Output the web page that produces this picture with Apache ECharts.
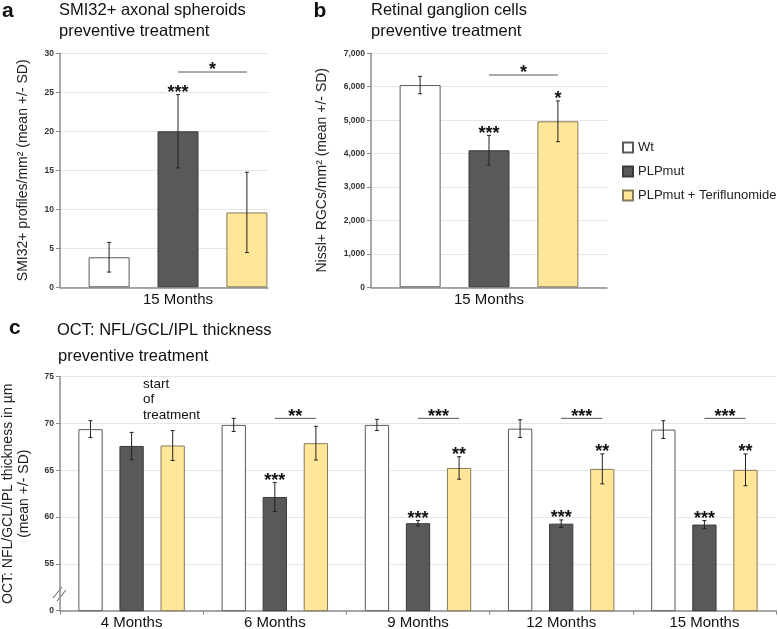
<!DOCTYPE html>
<html><head><meta charset="utf-8">
<script src="https://cdn.jsdelivr.net/npm/echarts@6/dist/echarts.min.js"></script>
<style>html,body{margin:0;padding:0;background:#fff}#c{width:778px;height:629px}</style>
</head><body><div id="c"></div>
<script>
const FONT = "'Liberation Sans', Arial, sans-serif";
// ---- Panel a ----
const aCategories = ['15 Months'];
const aWt = [3.85], aWtSD = [1.9];
const aMut = [20.0], aMutSD = [4.7];
const aTer = [9.6], aTerSD = [5.15];
const aWtSig = [''], aMutSig = ['***'], aTerSig = [''];
const aBracketY = [27.6], aBracketSig = ['*'];
// ---- Panel b ----
const bCategories = ['15 Months'];
const bWt = [6050], bWtSD = [260];
const bMut = [4100], bMutSD = [445];
const bTer = [4965], bTerSD = [610];
const bWtSig = [''], bMutSig = ['***'], bTerSig = ['*'];
const bBracketY = [6350], bBracketSig = ['*'];
// ---- Panel c ----
const cCategories = ['4 Months', '6 Months', '9 Months', '12 Months', '15 Months'];
const cWt = [69.4, 69.85, 69.85, 69.45, 69.35];
const cWtSD = [0.9, 0.7, 0.6, 0.95, 0.95];
const cMut = [67.6, 62.15, 59.35, 59.3, 59.2];
const cMutSD = [1.45, 1.55, 0.3, 0.4, 0.43];
const cTer = [67.65, 67.9, 65.25, 65.15, 65.05];
const cTerSD = [1.6, 1.8, 1.2, 1.6, 1.7];
const cWtSig = ['', '', '', '', ''];
const cMutSig = ['', '***', '***', '***', '***'];
const cTerSig = ['', '', '**', '**', '**'];
const cBracketY = [null, 70.55, 70.55, 70.55, 70.55];
const cBracketSig = ['', '**', '***', '***', '***'];
const cBreakLabel = '0';

const NAMES = ['Wt', 'PLPmut', 'PLPmut + Teriflunomide'];
const STY = [
  {color: '#ffffff', borderColor: '#5a5a5a', borderWidth: 1},
  {color: '#595959', borderColor: '#3a3a3a', borderWidth: 1},
  {color: '#ffe699', borderColor: '#857a5a', borderWidth: 1}
];
const SIG_SIZE = 18;

function bars(xi, yi, vals, k, bw, gap) {
  return {type: 'bar', name: NAMES[k], xAxisIndex: xi, yAxisIndex: yi, data: vals,
    barWidth: bw, barGap: gap, itemStyle: STY[k], silent: true, z: 2};
}
function errSeries(xi, yi, means, sds, sigs, offset) {
  return {
    type: 'custom', xAxisIndex: xi, yAxisIndex: yi, z: 5, silent: true,
    data: means.map((m, i) => [i, m, sds[i]]),
    renderItem: (params, api) => {
      const i = api.value(0), m = api.value(1), sd = api.value(2);
      const hi = api.coord([i, m + sd]), lo = api.coord([i, m - sd]);
      const x = hi[0] + offset;
      const st = {stroke: '#222', lineWidth: 1};
      const ch = [
        {type: 'line', shape: {x1: x, y1: hi[1], x2: x, y2: lo[1]}, style: st},
        {type: 'line', shape: {x1: x - 2, y1: hi[1], x2: x + 2, y2: hi[1]}, style: st},
        {type: 'line', shape: {x1: x - 2, y1: lo[1], x2: x + 2, y2: lo[1]}, style: st}
      ];
      const s = sigs[params.dataIndex];
      if (s) ch.push({type: 'text', x: x, y: hi[1] - 1.5,
        style: {text: s, fontSize: SIG_SIZE, fontWeight: 'bold', fontFamily: FONT, fill: '#111', align: 'center', verticalAlign: 'middle'}});
      return {type: 'group', children: ch};
    }
  };
}
function bracketSeries(xi, yi, ys, sigs, offset) {
  return {
    type: 'custom', xAxisIndex: xi, yAxisIndex: yi, z: 5, silent: true,
    data: ys.map((y, i) => [i, y]).filter(d => d[1] != null),
    renderItem: (params, api) => {
      const i = api.value(0), y = api.value(1);
      const p = api.coord([i, y]);
      return {type: 'group', children: [
        {type: 'line', shape: {x1: p[0], y1: p[1], x2: p[0] + offset, y2: p[1]}, style: {stroke: '#555', lineWidth: 1}},
        {type: 'text', x: p[0] + offset / 2, y: p[1] - 1.5,
          style: {text: sigs[i], fontSize: SIG_SIZE, fontWeight: 'bold', fontFamily: FONT, fill: '#111', align: 'center', verticalAlign: 'middle'}}
      ]};
    }
  };
}
const axLine = {show: true, lineStyle: {color: '#8c8c8c', width: 1.5}};
const tickLbl = {fontSize: 8.5, fontWeight: 'bold', color: '#333', fontFamily: FONT, margin: 6};
const split = {show: true, lineStyle: {color: '#e6e6e6', width: 1}};
const yTick = {show: true, length: 4, lineStyle: {color: '#8c8c8c'}};
const nameSty = {fontSize: 14, color: '#222', fontFamily: FONT};
const xLbl = {fontSize: 15, color: '#111', fontFamily: FONT, margin: 5};

function titleItem(text, left, top, size, bold) {
  return {text: text, left: left, top: top, padding: 0,
    textStyle: {fontSize: size, fontWeight: bold ? 'bold' : 'normal', color: '#111', fontFamily: FONT}};
}

const option = {
  animation: false,
  backgroundColor: '#fff',
  textStyle: {fontFamily: FONT},
  title: [
    titleItem('a', 2, 1, 21, true),
    titleItem('SMI32+ axonal spheroids', 59, 1.5, 16.5),
    titleItem('preventive treatment', 59, 23, 16.5),
    titleItem('b', 313.5, 1, 21, true),
    titleItem('Retinal ganglion cells', 371, 1.5, 16.5),
    titleItem('preventive treatment', 371, 23, 16.5),
    titleItem('c', 9, 318, 21, true),
    titleItem('OCT: NFL/GCL/IPL thickness', 57, 322, 16.5),
    titleItem('preventive treatment', 58, 347.5, 16.5)
  ],
  legend: {
    data: NAMES, orient: 'vertical', left: 617, top: 136, itemWidth: 10, itemHeight: 10, itemGap: 11,
    icon: 'rect', selectedMode: false,
    textStyle: {fontSize: 13, color: '#222', fontFamily: FONT}
  },
  grid: [
    {left: 60, top: 53.3, width: 236, height: 234, outerBoundsMode: 'none', containLabel: false},
    {left: 60, top: 53.3, width: 208, height: 234, outerBoundsMode: 'none', containLabel: false},
    {left: 371, top: 53.3, width: 236, height: 234, outerBoundsMode: 'none', containLabel: false},
    {left: 60, top: 376.7, width: 716, height: 234, outerBoundsMode: 'none', containLabel: false}
  ],
  xAxis: [
    {type: 'category', gridIndex: 0, data: aCategories, axisLine: {show: false}, axisTick: {show: false}, axisLabel: xLbl},
    {type: 'category', gridIndex: 1, data: aCategories, axisLine: axLine, axisTick: {show: false}, axisLabel: {show: false}},
    {type: 'category', gridIndex: 2, data: bCategories, axisLine: axLine, axisTick: {show: false}, axisLabel: xLbl},
    {type: 'category', gridIndex: 3, data: cCategories, axisLine: axLine,
      axisTick: {show: true, length: 4, lineStyle: {color: '#8c8c8c'}}, axisLabel: xLbl}
  ],
  yAxis: [
    {type: 'value', gridIndex: 0, min: 0, max: 30, interval: 5, show: false},
    {type: 'value', gridIndex: 1, min: 0, max: 30, interval: 5, axisLine: axLine, axisTick: yTick,
      axisLabel: tickLbl, splitLine: split,
      name: 'SMI32+ profiles/mm\u00b2 (mean +/- SD)', nameLocation: 'middle', nameGap: 30, nameTextStyle: nameSty},
    {type: 'value', gridIndex: 2, min: 0, max: 7000, interval: 1000, axisLine: axLine, axisTick: yTick,
      axisLabel: Object.assign({}, tickLbl, {formatter: v => v.toLocaleString('en-US')}), splitLine: split,
      name: 'Nissl+ RGCs/mm\u00b2 (mean +/- SD)', nameLocation: 'middle', nameGap: 42, nameTextStyle: nameSty},
    {type: 'value', gridIndex: 3, min: 50, max: 75, interval: 5, axisLine: axLine, axisTick: yTick,
      axisLabel: Object.assign({}, tickLbl, {formatter: v => v === 50 ? cBreakLabel : String(v)}), splitLine: split,
      name: 'OCT: NFL/GCL/IPL thickness in \u00b5m\n(mean +/- SD)', nameLocation: 'middle', nameGap: 28,
      nameTextStyle: Object.assign({}, nameSty, {lineHeight: 16})}
  ],
  series: [
    bars(0, 0, aWt, 0, 41, '68%'), bars(0, 0, aMut, 1, 41, '68%'), bars(0, 0, aTer, 2, 41, '68%'),
    errSeries(0, 0, aWt, aWtSD, aWtSig, -68.9),
    errSeries(0, 0, aMut, aMutSD, aMutSig, 0),
    errSeries(0, 0, aTer, aTerSD, aTerSig, 68.9),
    bracketSeries(0, 0, aBracketY, aBracketSig, 68.9),

    bars(2, 2, bWt, 0, 41, '68%'), bars(2, 2, bMut, 1, 41, '68%'), bars(2, 2, bTer, 2, 41, '68%'),
    errSeries(2, 2, bWt, bWtSD, bWtSig, -68.9),
    errSeries(2, 2, bMut, bMutSD, bMutSig, 0),
    errSeries(2, 2, bTer, bTerSD, bTerSig, 68.9),
    bracketSeries(2, 2, bBracketY, bBracketSig, 68.9),

    bars(3, 3, cWt, 0, 24.3, '69%'), bars(3, 3, cMut, 1, 24.3, '69%'), bars(3, 3, cTer, 2, 24.3, '69%'),
    errSeries(3, 3, cWt, cWtSD, cWtSig, -41.1),
    errSeries(3, 3, cMut, cMutSD, cMutSig, 0),
    errSeries(3, 3, cTer, cTerSD, cTerSig, 41.1),
    bracketSeries(3, 3, cBracketY, cBracketSig, 41.1)
  ],
  graphic: [
    {type: 'text', left: 143, top: 376.5, silent: true,
      style: {text: 'start\nof\ntreatment', fontSize: 13.5, lineHeight: 15.5, fontFamily: FONT, fill: '#111'}},
    {type: 'line', silent: true, shape: {x1: 53, y1: 598, x2: 62, y2: 587}, style: {stroke: '#555', lineWidth: 1}},
    {type: 'line', silent: true, shape: {x1: 57, y1: 601, x2: 66, y2: 590}, style: {stroke: '#555', lineWidth: 1}}
  ]
};
const chart = echarts.init(document.getElementById('c'), null, {renderer: 'canvas'});
chart.setOption(option);
</script>
</body></html>
